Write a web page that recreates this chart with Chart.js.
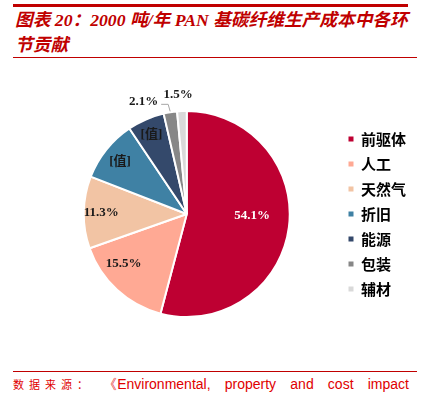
<!DOCTYPE html>
<html>
<head>
<meta charset="utf-8">
<script src="https://cdn.jsdelivr.net/npm/chart.js@4.4.0/dist/chart.umd.min.js"></script>
<style>
  html, body { margin: 0; padding: 0; background: #fff; }
  body { width: 431px; height: 397px; position: relative; overflow: hidden; }
  .bar-top { position: absolute; left: 13px; top: 4px; width: 395px; height: 3px; background: #C00000; }
  .rule { position: absolute; left: 13px; width: 404px; height: 1px; background: #C00000; }
  .title { position: absolute; left: 15px; top: 8px; width: 410px; color: #C00000;
    font: italic bold 17.7px "Liberation Serif", "Noto Sans CJK SC", serif; line-height: 25px; white-space: nowrap; }
  .foot { position: absolute; left: 13px; top: 375px; width: 396px; color: #E00000; white-space: nowrap;
    font: 14px "Liberation Sans", Arial, sans-serif; line-height: 18px; display: flex; justify-content: space-between; }
  .foot .cn { font: 11px "Noto Sans CJK SC", sans-serif; letter-spacing: 5px; line-height: 18px; }
  .foot .q { margin-left: -4px; }
  #wrap { position: absolute; left: 0; top: 60px; width: 431px; height: 300px; }
</style>
</head>
<body>
<div class="bar-top"></div>
<div class="title">图表 20：2000 吨/年 PAN 基碳纤维生产成本中各环<br>节贡献</div>
<div class="rule" style="top:57px"></div>
<div id="wrap"><canvas id="c" width="431" height="300"></canvas></div>
<div class="rule" style="top:371px"></div>
<div class="foot"><span class="cn">数据来源：</span><span class="q">《Environmental,</span><span>property</span><span>and</span><span>cost</span><span>impact</span></div>
<script>
const categories = ['前驱体', '人工', '天然气', '折旧', '能源', '包装', '辅材'];
const shares = [54.1, 15.5, 11.3, 9.7, 5.8, 2.1, 1.5];
const shownText = ['54.1%', '15.5%', '11.3%', '[值]', '[值]', '2.1%', '1.5%'];
const colors = ['#BE0032', '#FFA994', '#F2C4A4', '#3F81A4', '#34496B', '#878787', '#D9D9D9'];

const labelStyle = [
  { r: 0.64, dx: 0, dy: -7, color: '#FFFFFF' },
  { r: 0.79, dx: -8, dy: -10, color: '#1A1A1A' },
  { r: 0.83, dx: 0, dy: 0, color: '#1A1A1A' },
  { r: 0.83, dx: 0, dy: 1, color: '#1A1A1A' },
  { r: 0.84, dx: -1, dy: 0, color: '#1A1A1A' },
  { callout: true, color: '#1A1A1A' },
  { r: 1.16, dx: -3, dy: 0, color: '#1A1A1A' }
];

const pieLabels = {
  id: 'pieLabels',
  afterDatasetsDraw(chart) {
    const ctx = chart.ctx;
    const meta = chart.getDatasetMeta(0);
    ctx.save();
    ctx.font = 'bold 13px "Liberation Serif", "Noto Sans CJK SC", serif';
    ctx.textBaseline = 'middle';
    meta.data.forEach((arc, i) => {
      const p = arc.getProps(['x', 'y', 'startAngle', 'endAngle', 'outerRadius'], true);
      const mid = (p.startAngle + p.endAngle) / 2;
      const st = labelStyle[i];
      ctx.fillStyle = st.color;
      if (st.callout) {
        const x0 = p.x + Math.cos(mid) * (p.outerRadius + 1);
        const y0 = p.y + Math.sin(mid) * (p.outerRadius + 1);
        const x1 = x0 - 2, y1 = y0 - 7;
        const x2 = x1 - 7;
        ctx.strokeStyle = '#A6A6A6';
        ctx.lineWidth = 1;
        ctx.beginPath();
        ctx.moveTo(x0, y0); ctx.lineTo(x1, y1); ctx.lineTo(x2, y1);
        ctx.stroke();
        ctx.textAlign = 'right';
        ctx.fillText(shownText[i], x2 - 3, y1 - 3);
      } else {
        ctx.textAlign = 'center';
        const x = p.x + Math.cos(mid) * p.outerRadius * st.r + st.dx;
        const y = p.y + Math.sin(mid) * p.outerRadius * st.r + st.dy;
        ctx.fillText(shownText[i], x, y);
      }
    });
    ctx.restore();
  }
};

new Chart(document.getElementById('c'), {
  type: 'pie',
  data: {
    labels: categories,
    datasets: [{
      data: shares,
      backgroundColor: colors,
      borderColor: '#FFFFFF',
      borderWidth: 2
    }]
  },
  options: {
    responsive: false,
    animation: false,
    devicePixelRatio: 1,
    layout: { padding: { left: 35, right: 15, top: 50, bottom: 42 } },
    plugins: {
      tooltip: { enabled: false },
      legend: {
        position: 'right',
        align: 'center',
        labels: {
          boxWidth: 5,
          boxHeight: 5,
          padding: 10,
          color: '#000000',
          font: { family: '"Noto Sans CJK SC", sans-serif', size: 15, weight: 'bold' },
          generateLabels(chart) {
            return Chart.overrides.pie.plugins.legend.labels.generateLabels(chart)
              .map(l => Object.assign(l, { lineWidth: 0, strokeStyle: 'rgba(0,0,0,0)' }));
          }
        }
      }
    }
  },
  plugins: [pieLabels]
});
</script>
</body>
</html>
